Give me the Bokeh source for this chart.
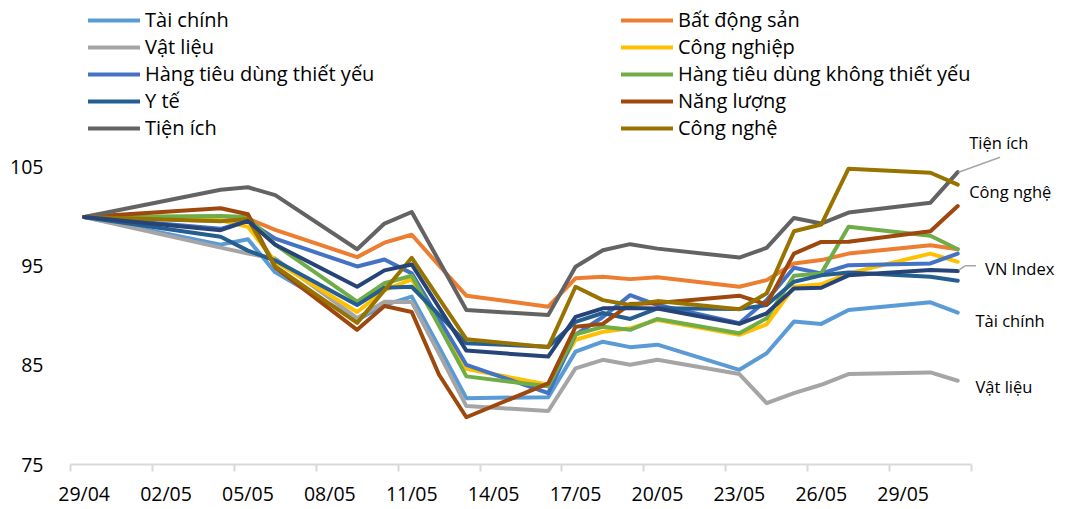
import pandas as pd
from bokeh.plotting import figure
from bokeh.models import (FixedTicker, Legend, LegendItem, Label, Arrow,
                          Range1d)
from bokeh.embed import file_html
from bokeh.resources import INLINE

# Trading sessions (2022)
dates = ["29/04", "04/05", "05/05", "06/05", "09/05", "10/05", "11/05",
         "12/05", "13/05", "16/05", "17/05", "18/05", "19/05", "20/05",
         "23/05", "24/05", "25/05", "26/05", "27/05", "30/05", "31/05"]

tai_chinh = [100, 97.2, 97.75, 94.4, 89.6, 91.1, 91.95, 86.85, 81.7, 81.8, 86.4,
             87.4, 86.85, 87.1, 84.56, 86.24, 89.43, 89.2, 90.6, 91.38, 90.34]
bat_dong_san = [100, 99.6, 99.83, 98.7, 95.94, 97.4, 98.2, 95.1, 92.05, 90.94, 93.8,
                93.96, 93.72, 93.9, 92.95, 93.62, 95.3, 95.64, 96.3, 97.15, 96.74]
vat_lieu = [100, 96.9, 96.3, 95.8, 89.77, 91.44, 91.4, 86.2, 80.9, 80.4, 84.7,
            85.57, 85.07, 85.57, 84.13, 81.2, 82.2, 83.05, 84.13, 84.3, 83.46]
cong_nghiep = [100, 99.66, 99.0, 95.5, 90.4, 92.6, 93.7, 89.2, 84.66, 83.05, 87.6,
               88.4, 88.75, 89.6, 88.1, 89.16, 92.95, 93.2, 94.3, 96.3, 95.47]
htd_thiet_yeu = [100, 98.8, 99.6, 97.8, 95.0, 95.7, 94.3, 89.7, 85.07, 82.2, 88.1,
                 89.9, 92.1, 91.1, 89.26, 91.6, 94.87, 94.3, 95.13, 95.3, 96.3]
htd_khong_thiet_yeu = [100, 100.1, 100.0, 97.2, 91.44, 93.3, 94.06, 89.0, 83.9, 82.9,
                       88.15, 88.9, 88.6, 89.7, 88.26, 89.77, 94.06, 94.3, 99.0, 98.1, 96.74]
y_te = [100, 97.99, 96.6, 95.6, 91.1, 92.85, 92.95, 90.1, 87.25, 86.9, 89.4,
        90.3, 89.7, 90.77, 90.7, 91.1, 93.45, 94.1, 94.4, 93.96, 93.56]
nang_luong = [100, 100.87, 100.27, 94.9, 88.6, 91.0, 90.4, 84.06, 79.77, 83.2, 88.9,
              89.2, 91.2, 91.3, 92.05, 91.17, 96.3, 97.48, 97.5, 98.56, 101.1]
tien_ich = [100, 102.75, 103.0, 102.2, 96.74, 99.33, 100.5, 95.55, 90.6, 90.1, 94.97,
            96.64, 97.25, 96.8, 95.9, 96.88, 99.9, 99.33, 100.44, 101.44, 104.53]
cong_nghe = [100, 99.56, 99.8, 95.0, 89.3, 92.6, 95.87, 91.76, 87.65, 86.85, 92.95,
             91.6, 91.1, 91.5, 90.67, 92.28, 98.56, 99.23, 104.87, 104.46, 103.26]
vn_index = [100, 98.66, 99.6, 97.2, 92.95, 94.6, 95.2, 90.85, 86.5, 85.9, 89.9,
            90.77, 90.8, 90.76, 89.2, 90.27, 92.78, 92.85, 94.1, 94.63, 94.53]

tick_labels = ["29/04", "02/05", "05/05", "08/05", "11/05", "14/05",
               "17/05", "20/05", "23/05", "26/05", "29/05"]
y_ticks = [75, 85, 95, 105]

series = [
    ("Tài chính", tai_chinh, "#5B9BD5"),
    ("Bất động sản", bat_dong_san, "#ED7D31"),
    ("Vật liệu", vat_lieu, "#A5A5A5"),
    ("Công nghiệp", cong_nghiep, "#FFC000"),
    ("Hàng tiêu dùng thiết yếu", htd_thiet_yeu, "#4472C4"),
    ("Hàng tiêu dùng không thiết yếu", htd_khong_thiet_yeu, "#70AD47"),
    ("Y tế", y_te, "#255E91"),
    ("Năng lượng", nang_luong, "#9E480E"),
    ("Tiện ích", tien_ich, "#636363"),
    ("Công nghệ", cong_nghe, "#997300"),
]

FONT = "Open Sans"
W, H = 1070, 509
LEFT, BOTTOM = 70, 42
DAY_PX = 27.3          # horizontal size of one calendar day
UNIT_PX = 299 / 30     # vertical size of one index point

start = pd.Timestamp("2022-04-29")
day = [(pd.Timestamp(f"2022-{d[3:]}-{d[:2]}") - start).days for d in dates]
tick_days = [(pd.Timestamp(f"2022-{t[3:]}-{t[:2]}") - start).days for t in tick_labels]
n_days = day[-1] + 1

# The plotting area spans the whole canvas above/right of the axes so that the
# legend and the end-of-line notes can sit inside it.
frame_w = W - LEFT
frame_h = H - BOTTOM
x_end = -0.5 + frame_w / DAY_PX
y_end = 75 + frame_h / UNIT_PX

p = figure(width=W, height=H, output_backend="svg", toolbar_location=None,
           x_range=Range1d(-0.5, x_end), y_range=Range1d(75, y_end),
           min_border_left=LEFT, min_border_right=0, min_border_top=0,
           min_border_bottom=BOTTOM)
p.outline_line_color = None
p.grid.visible = False
p.background_fill_color = "white"
p.border_fill_color = "white"

renderers = {}
for name, vals, color in series:
    renderers[name] = p.line(day, vals, line_color=color, line_width=4,
                             line_join="round", line_cap="round")
p.line(day, vn_index, line_color="#264478", line_width=4,
       line_join="round", line_cap="round")

# x axis: labels centred on days, tick marks on day boundaries
xa = p.xaxis[0]
xa.bounds = (-0.5, n_days - 0.5)
xa.ticker = FixedTicker(ticks=tick_days,
                        minor_ticks=[t - 0.5 for t in tick_days] + [n_days - 0.5])
xa.major_label_overrides = {t: lab for t, lab in zip(tick_days, tick_labels)}
xa.major_tick_line_color = None
xa.major_tick_out = 0
xa.major_tick_in = 0
xa.minor_tick_line_color = "#D9D9D9"
xa.minor_tick_line_width = 2
xa.minor_tick_in = 0
xa.minor_tick_out = 7
xa.axis_line_color = "#D9D9D9"
xa.axis_line_width = 2
xa.major_label_standoff = 8
xa.major_label_text_font = FONT
xa.major_label_text_font_size = "19.5px"
xa.major_label_text_color = "black"

ya = p.yaxis[0]
ya.ticker = FixedTicker(ticks=y_ticks)
ya.axis_line_color = None
ya.major_tick_line_color = None
ya.minor_tick_line_color = None
ya.major_tick_out = 0
ya.major_tick_in = 0
ya.major_label_standoff = 27
ya.major_label_text_font = FONT
ya.major_label_text_font_size = "19.5px"
ya.major_label_text_color = "black"


def make_legend(names, loc):
    lg = Legend(items=[LegendItem(label=n, renderers=[renderers[n]]) for n in names],
                location=loc, orientation="vertical", glyph_width=52,
                glyph_height=20, label_height=20, label_standoff=5, spacing=0,
                padding=0, margin=0, border_line_color=None,
                background_fill_alpha=0, label_text_font=FONT,
                label_text_font_size="20px", label_text_color="black")
    p.add_layout(lg, "center")


make_legend(["Tài chính", "Vật liệu", "Hàng tiêu dùng thiết yếu", "Y tế", "Tiện ích"],
            (18, 323))
make_legend(["Bất động sản", "Công nghiệp", "Hàng tiêu dùng không thiết yếu",
             "Năng lượng", "Công nghệ"], (551, 323))

# end-of-line notes
end_labels = [("Tiện ích", 32.42, 107.55), ("Công nghệ", 32.42, 102.6),
              ("VN Index", 33.0, 94.84), ("Tài chính", 32.65, 89.56),
              ("Vật liệu", 32.65, 82.9)]
for txt, lx, ly in end_labels:
    p.add_layout(Label(x=lx, y=ly, text=txt, text_font=FONT, text_font_size="16.5px",
                       text_baseline="middle", text_align="left", text_color="black"))

for x0, y0, x1, y1 in [(32.03, 104.52, 33.55, 106.03),
                       (32.03, 94.62, 32.27, 95.06),
                       (32.27, 95.06, 32.67, 95.06)]:
    p.add_layout(Arrow(end=None, x_start=x0, y_start=y0, x_end=x1, y_end=y1,
                       line_color="#A6A6A6", line_width=1.5))

open("out.html", "w").write(file_html(p, INLINE))
